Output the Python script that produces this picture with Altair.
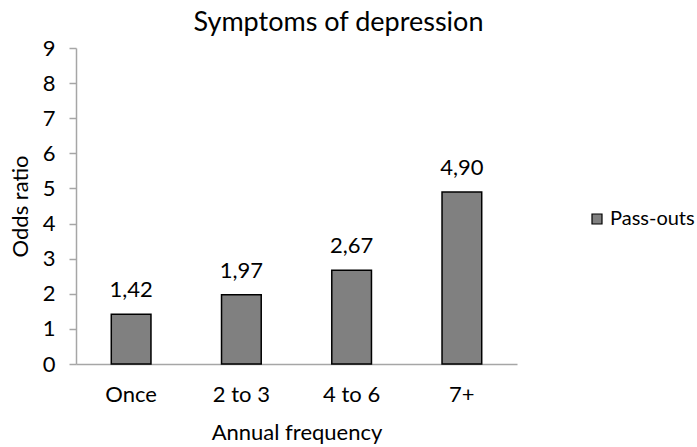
import altair as alt
import pandas as pd

categories = ["Once", "2 to 3", "4 to 6", "7+"]
odds_ratio = [1.42, 1.97, 2.67, 4.90]
series_name = ["Pass-outs"] * 4
y_ticks = [0, 1, 2, 3, 4, 5, 6, 7, 8, 9]

df = pd.DataFrame({
    "frequency": categories,
    "odds": odds_ratio,
    "series": series_name,
})
df["label"] = df["odds"].map(lambda v: f"{v:.2f}".replace(".", ","))

FONT = "Lato"
FS = 22
AXIS_GREY = "#a6a6a6"

x_enc = alt.X(
    "frequency:N",
    sort=categories,
    title="Annual frequency",
    scale=alt.Scale(paddingInner=0.64, paddingOuter=0.32),
    axis=alt.Axis(labelAngle=0, ticks=False, labelPadding=20, titlePadding=17,
                  domainColor=AXIS_GREY, domainWidth=1.5, labelFontSize=FS, titleFontSize=FS,
                  labelFont=FONT, titleFont=FONT, labelColor="#000", titleColor="#000",
                  titleFontWeight="normal"),
)
# tickCount must not be below the number of explicit values, or Vega thins them out
y_enc = alt.Y(
    "odds:Q",
    title="Odds ratio",
    scale=alt.Scale(domain=[0, 9], nice=False),
    axis=alt.Axis(values=y_ticks, tickCount=len(y_ticks), labelOverlap=False, grid=False,
                  tickSize=7, tickColor=AXIS_GREY, tickWidth=1.5, domainColor=AXIS_GREY,
                  domainWidth=1.5, labelPadding=14, titlePadding=10,
                  labelFontSize=FS, titleFontSize=FS, labelFont=FONT, titleFont=FONT,
                  labelColor="#000", titleColor="#000", titleFontWeight="normal"),
)

bars = alt.Chart(df).mark_bar(stroke="black", strokeWidth=1.5).encode(
    x=x_enc,
    y=y_enc,
    color=alt.Color(
        "series:N",
        scale=alt.Scale(range=["#808080"]),
        legend=alt.Legend(title=None, orient="none", legendX=511, legendY=161,
                          symbolType="square", symbolSize=100, symbolStrokeColor="black",
                          symbolStrokeWidth=1.2, labelFontSize=20, labelFont=FONT,
                          labelColor="#000", labelOffset=3),
    ),
)

labels = alt.Chart(df).mark_text(dy=-17, baseline="alphabetic", fontSize=FS, font=FONT,
                                 color="black").encode(
    x=x_enc,
    y=y_enc,
    text="label:N",
)

chart = (bars + labels).properties(
    width=441,
    height=316,
    autosize=alt.AutoSizeParams(type="none"),
    padding={"left": 76, "top": 48, "right": 180, "bottom": 83},
    title=alt.TitleParams("Symptoms of depression", fontSize=27, font=FONT,
                          fontWeight="normal", color="black", offset=0, dx=42),
).configure_view(stroke=None)

chart.save("out.html", embed_options={"renderer": "svg", "actions": False})
